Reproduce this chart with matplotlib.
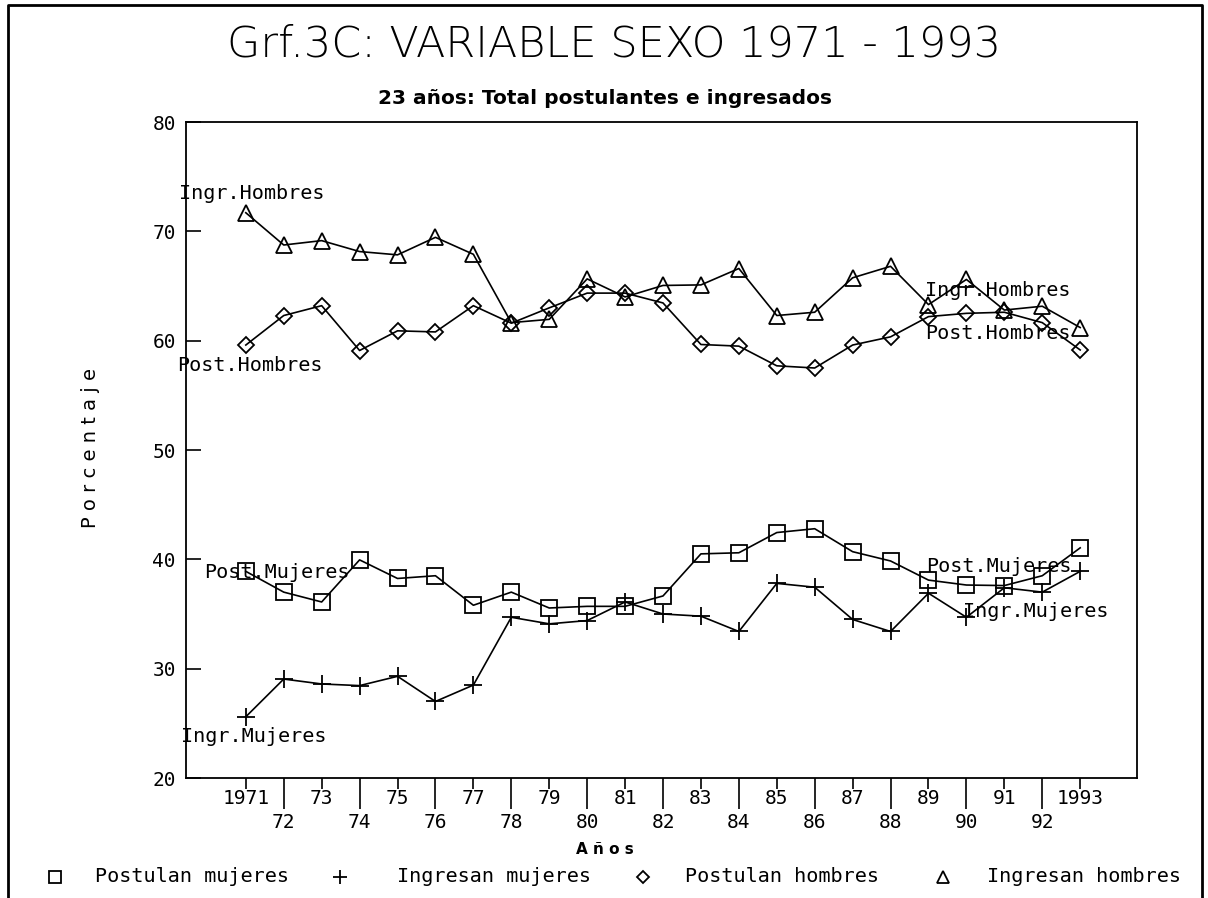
import matplotlib
matplotlib.use("Agg")
import matplotlib.pyplot as plt
from matplotlib.lines import Line2D

years = list(range(1971, 1994))
postulan_mujeres = [38.9, 37.0, 36.1, 39.95, 38.25, 38.5, 35.8, 37.0, 35.55, 35.7, 35.7, 36.65,
                    40.5, 40.6, 42.45, 42.8, 40.7, 39.85, 38.1, 37.65, 37.6, 38.5, 41.05]
ingresan_mujeres = [25.6, 29.05, 28.6, 28.45, 29.3, 27.0, 28.5, 34.7, 34.1, 34.4, 36.1, 35.0,
                    34.8, 33.4, 37.8, 37.45, 34.5, 33.4, 36.9, 34.7, 37.4, 37.0, 38.9]
postulan_hombres = [59.6, 62.3, 63.2, 59.1, 60.9, 60.8, 63.2, 61.6, 63.0, 64.35, 64.35, 63.45,
                    59.65, 59.5, 57.7, 57.5, 59.6, 60.35, 62.2, 62.5, 62.6, 61.65, 59.15]
ingresan_hombres = [71.7, 68.75, 69.15, 68.15, 67.85, 69.45, 67.9, 61.65, 61.95, 65.65, 64.0, 65.05,
                    65.1, 66.6, 62.3, 62.6, 65.75, 66.8, 63.3, 65.6, 62.8, 63.15, 61.2]

odd_years = [y for y in years if y % 2 == 1]
even_years = [y for y in years if y % 2 == 0]
odd_labels = ["1971", "73", "75", "77", "79", "81", "83", "85", "87", "89", "91", "1993"]
even_labels = ["72", "74", "76", "78", "80", "82", "84", "86", "88", "90", "92"]
yticks = [20, 30, 40, 50, 60, 70, 80]

legend_labels = ["Postulan mujeres", "Ingresan mujeres", "Postulan hombres", "Ingresan hombres"]
markers = ["s", "+", "D", "^"]

title = "Grf.3C: VARIABLE SEXO 1971 - 1993"
subtitle = "23 años: Total postulantes e ingresados"

MONO = "DejaVu Sans Mono"

W, H = 1208, 898
fig = plt.figure(figsize=(W / 100, H / 100), dpi=100)
fig.patch.set_facecolor("white")

def fx(px):
    return px / W

def fy(py):
    return 1 - py / H

ax = fig.add_axes([fx(185.7), fy(778), fx(1136.7) - fx(185.7), fy(122) - fy(778)])

series = [postulan_mujeres, ingresan_mujeres, postulan_hombres, ingresan_hombres]
msizes = [11, 13, 8, 11]
for vals, m, ms in zip(series, markers, msizes):
    ax.plot(years, vals, color="black", lw=1.2, marker=m, ms=ms,
            mfc="none", mec="black", mew=1.3)

ax.set_xlim(1969.415, 1994.49)
ax.set_ylim(20, 80)

ax.set_xticks(odd_years)
ax.set_xticklabels(odd_labels, fontfamily=MONO, fontsize=14)
ax.set_xticks(even_years, minor=True)
ax.set_xticklabels(even_labels, minor=True, fontfamily=MONO, fontsize=14)
ax.tick_params(axis="x", which="major", direction="out", length=8, width=1.2, pad=0)
ax.tick_params(axis="x", which="minor", direction="out", length=22, width=1.2, pad=3)

ax.set_yticks(yticks)
ax.set_yticklabels([str(v) for v in yticks], fontfamily=MONO, fontsize=14)
ax.tick_params(axis="y", direction="in", length=11, width=1.2, pad=7)

for sp in ax.spines.values():
    sp.set_linewidth(1.3)

# series labels
lab_kw = dict(fontfamily=MONO, fontsize=14.5, va="center", ha="left", color="black")
ax.text(1969.25, 73.5, "Ingr.Hombres", **lab_kw)
ax.text(1969.2, 57.7, "Post.Hombres", **lab_kw)
ax.text(1969.9, 38.75, "Post.Mujeres", **lab_kw)
ax.text(1969.3, 23.75, "Ingr.Mujeres", **lab_kw)
ax.text(1988.9, 64.55, "Ingr.Hombres", **lab_kw)
ax.text(1988.9, 60.7, "Post.Hombres", **lab_kw)
ax.text(1988.95, 39.3, "Post.Mujeres", **lab_kw)
ax.text(1989.9, 35.2, "Ingr.Mujeres", **lab_kw)

# titles
fig.text(fx(614), fy(44), title, ha="center", va="center", fontsize=31,
         fontfamily="DejaVu Sans", fontweight="light")
fig.text(fx(605), fy(99), subtitle, ha="center", va="center", fontsize=14.5,
         fontfamily="DejaVu Sans", fontweight="bold")
fig.text(fx(605), fy(849), "A ñ o s", ha="center", va="center", fontsize=11,
         fontfamily="DejaVu Sans", fontweight="bold")
fig.text(fx(90), fy(448), "P o r c e n t a j e", ha="center", va="center",
         rotation=90, fontsize=14, fontfamily="DejaVu Sans")

# legend
leg_y = fy(877)
leg_marker_x = [55, 340, 643, 943]
leg_text_x = [95, 397, 685, 987]
leg_ms = [8, 10, 6, 8]
for lab, m, mx, tx, ms in zip(legend_labels, markers, leg_marker_x, leg_text_x, leg_ms):
    fig.add_artist(Line2D([fx(mx)], [leg_y], marker=m, ms=ms, mfc="none", mec="black",
                          mew=1.3, ls="none", transform=fig.transFigure))
    fig.text(fx(tx), leg_y, lab, ha="left", va="center", fontsize=14.5, fontfamily=MONO)

# outer frame
fig.add_artist(Line2D([fx(8), fx(8), fx(1202), fx(1202)], [0, fy(5), fy(5), 0],
                      color="black", lw=2, transform=fig.transFigure))

fig.savefig("out.png", dpi=100, facecolor="white")
